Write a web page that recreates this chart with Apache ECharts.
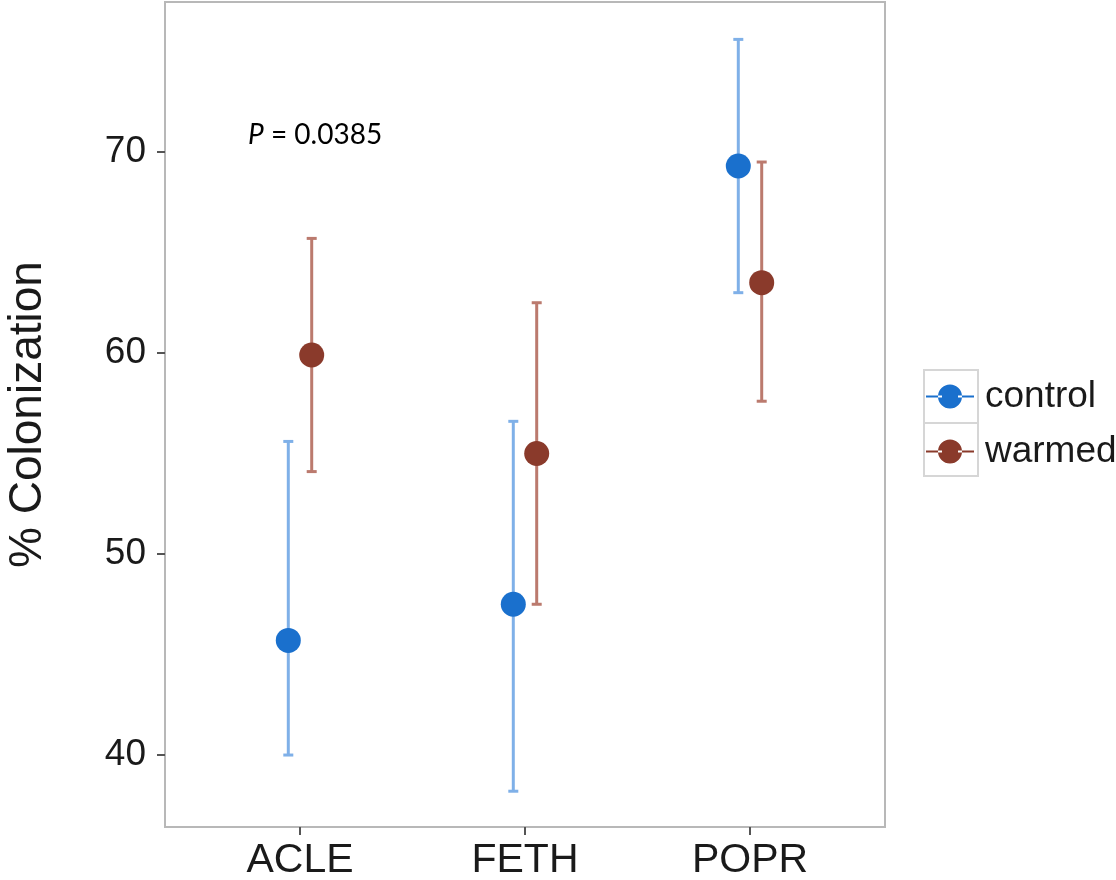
<!DOCTYPE html>
<html>
<head>
<meta charset="utf-8">
<script src="https://cdn.jsdelivr.net/npm/echarts@6/dist/echarts.min.js"></script>
<style>
  html, body { margin: 0; padding: 0; background: #fff; }
  #chart { width: 1116px; height: 880px; }
</style>
</head>
<body>
<div id="chart"></div>
<script>
// 数据
const categories = ['ACLE', 'FETH', 'POPR']
const controlMean = [45.7, 47.5, 69.3]
const controlLow = [40.0, 38.2, 63.0]
const controlHigh = [55.6, 56.6, 75.6]
const warmedMean = [59.9, 55.0, 63.5]
const warmedLow = [54.1, 47.5, 57.6]
const warmedHigh = [65.7, 62.5, 69.5]
const yTicks = [40, 50, 60, 70]
const pText = '0.0385'

const dodge = 0.052
const blue = '#1a70cd'
const blueBar = '#7fb0e8'
const brown = '#8a3a2b'
const brownBar = '#bb7a6e'

function points(mean, off) {
  return mean.map((v, i) => [i + 1 + off, v])
}
function bars(low, high, off) {
  return low.map((v, i) => [i + 1 + off, v, high[i]])
}

// 误差线
function errorBar(color) {
  return function (params, api) {
    const lo = api.coord([api.value(0), api.value(1)])
    const hi = api.coord([api.value(0), api.value(2)])
    const w = 5
    const style = { stroke: color, lineWidth: 3 }
    return {
      type: 'group',
      children: [
        { type: 'line', shape: { x1: lo[0], y1: lo[1], x2: hi[0], y2: hi[1] }, style: style },
        { type: 'line', shape: { x1: lo[0] - w, y1: lo[1], x2: lo[0] + w, y2: lo[1] }, style: style },
        { type: 'line', shape: { x1: hi[0] - w, y1: hi[1], x2: hi[0] + w, y2: hi[1] }, style: style }
      ]
    }
  }
}

const legendIcon = 'path://M0,11h16v2h-16z M12,12a12,12 0 1,0 24,0a12,12 0 1,0 -24,0 M32,11h16v2h-16z'

const chart = echarts.init(document.getElementById('chart'))
const option = {
  animation: false,
  backgroundColor: '#fff',
  grid: {
    left: 165, right: 231, top: 2, bottom: 53,
    outerBoundsMode: 'none', containLabel: false,
    show: true, borderColor: '#b8b8b8', borderWidth: 2, backgroundColor: '#fff'
  },
  xAxis: {
    type: 'value',
    min: 0.4, max: 3.6,
    splitLine: { show: false },
    axisLine: { show: false },
    axisTick: { show: true, length: 8, lineStyle: { color: '#555', width: 2 }, customValues: [1, 2, 3] },
    axisLabel: {
      customValues: [1, 2, 3],
      formatter: v => categories[Math.round(v) - 1],
      fontFamily: 'Liberation Sans', fontSize: 41, color: '#1a1a1a', margin: 13
    }
  },
  yAxis: {
    type: 'value',
    min: 36.42, max: 77.46,
    name: '% Colonization',
    nameLocation: 'middle',
    nameGap: 114,
    nameTextStyle: { fontFamily: 'Liberation Sans', fontSize: 46, color: '#1a1a1a' },
    splitLine: { show: false },
    axisLine: { show: false },
    axisTick: { show: true, length: 8, lineStyle: { color: '#555', width: 2 }, customValues: yTicks },
    axisLabel: {
      customValues: yTicks,
      fontFamily: 'Liberation Sans', fontSize: 37, color: '#1a1a1a', margin: 19
    }
  },
  legend: {
    orient: 'vertical',
    left: 921, top: 371,
    itemWidth: 48, itemHeight: 24, itemGap: 14,
    textStyle: { fontFamily: 'Liberation Sans', fontSize: 37, color: '#1a1a1a', lineHeight: 41, padding: [0, 0, 0, 6] },
    data: [
      { name: 'control', icon: legendIcon, itemStyle: { color: blue } },
      { name: 'warmed', icon: legendIcon, itemStyle: { color: brown } }
    ]
  },
  graphic: [
    { type: 'rect', shape: { x: 924, y: 370, width: 54, height: 53 }, style: { fill: 'none', stroke: '#d6d6d6', lineWidth: 2 } },
    { type: 'rect', shape: { x: 924, y: 423, width: 54, height: 53 }, style: { fill: 'none', stroke: '#d6d6d6', lineWidth: 2 } },
    {
      type: 'text', left: 248, top: 121,
      style: {
        text: '{i|P} = ' + pText,
        rich: { i: { fontStyle: 'italic', fontFamily: 'Lato', fontSize: 28, fill: '#000' } },
        fontFamily: 'Lato', fontSize: 28, fill: '#000'
      }
    }
  ],
  series: [
    { type: 'custom', name: 'controlBar', renderItem: errorBar(blueBar), data: bars(controlLow, controlHigh, -dodge), z: 1, silent: true },
    { type: 'custom', name: 'warmedBar', renderItem: errorBar(brownBar), data: bars(warmedLow, warmedHigh, dodge), z: 1, silent: true },
    { type: 'scatter', name: 'control', data: points(controlMean, -dodge), symbolSize: 25, itemStyle: { color: blue, opacity: 1 }, z: 3 },
    { type: 'scatter', name: 'warmed', data: points(warmedMean, dodge), symbolSize: 25, itemStyle: { color: brown, opacity: 1 }, z: 3 }
  ]
}
chart.setOption(option)
</script>
</body>
</html>
